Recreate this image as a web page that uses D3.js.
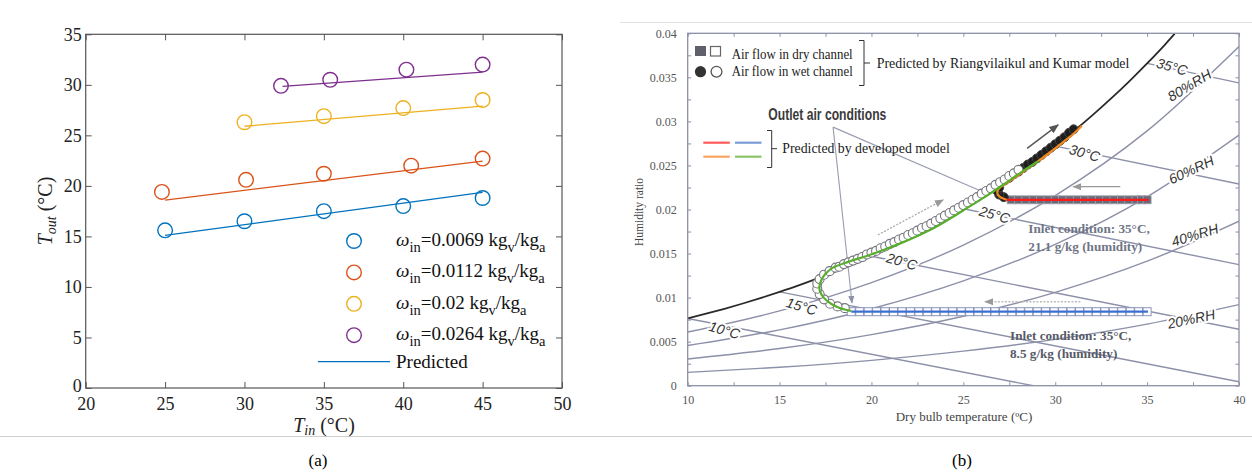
<!DOCTYPE html>
<html>
<head>
<meta charset="utf-8">
<script src="https://d3js.org/d3.v7.min.js"></script>
<style>
  body { margin:0; background:#fff; }
  svg { display:block; }
  text { font-family: "Liberation Serif", "Times New Roman", serif; }
  .psy { font-family: "Liberation Sans", Arial, sans-serif; font-style: italic; fill:#333;
         paint-order: stroke; stroke:#fff; stroke-width:4px; stroke-linejoin:round; }
</style>
</head>
<body>
<svg width="1252" height="473"></svg>
<script>
// ---------- panel (a): outlet temperature vs inlet temperature
var omegaLabels = ['0.0069', '0.0112', '0.02', '0.0264'];
var seriesColors = ['#0072BD', '#D95319', '#EDB120', '#7E2F8E'];
var tinMeas = [[25, 30, 35, 40, 45], [24.8, 30.1, 35, 40.5, 45], [30, 35, 40, 45], [32.3, 35.4, 40.2, 45]];
var toutMeas = [[15.6, 16.5, 17.5, 18.0, 18.8], [19.4, 20.6, 21.2, 22.0, 22.7], [26.3, 26.9, 27.7, 28.5], [29.9, 30.5, 31.5, 32.0]];
var tinPred = [[25, 45], [25, 45], [30, 45], [32.4, 45]];
var toutPred = [[15.1, 19.35], [18.6, 22.45], [25.9, 27.9], [29.85, 31.25]];
var aTicksX = [20, 25, 30, 35, 40, 45, 50];
var aTicksY = [0, 5, 10, 15, 20, 25, 30, 35];

// ---------- panel (b): psychrometric chart
var satT = [10, 11, 12, 13, 14, 15, 16, 17, 18, 19, 20, 21, 22, 23, 24, 25, 26, 27, 28, 29, 30, 31, 32, 33, 34, 35, 36, 36.5];
var satW = [0.00763, 0.00817, 0.00873, 0.00933, 0.00997, 0.01065, 0.01136, 0.01213, 0.01293, 0.01379, 0.01470, 0.01565,
            0.01667, 0.01774, 0.01888, 0.02008, 0.02135, 0.02270, 0.02412, 0.02562, 0.02720, 0.02888, 0.03065, 0.03252,
            0.03449, 0.03658, 0.03878, 0.03994];
var rhT = [10, 15, 20, 25, 30, 35, 40];
var rh80 = [0.00609, 0.00849, 0.01170, 0.01596, 0.02158, 0.02892, 0.03851];
var rh60 = [0.00456, 0.00634, 0.00874, 0.01190, 0.01604, 0.02144, 0.02844];
var rh40 = [0.00303, 0.00422, 0.00580, 0.00788, 0.01060, 0.01413, 0.01868];
var rh20 = [0.00151, 0.00210, 0.00288, 0.00392, 0.00526, 0.00699, 0.00920];
var rhNames = ['80%RH', '60%RH', '40%RH', '20%RH'];
var rhLabelT = [37.3, 37.4, 37.6, 37.4];
var rhLabelW = [0.0341, 0.0245, 0.0171, 0.00757];
var rhLabelRot = [-31, -25, -17, -12];

var wbT = [10, 15, 20, 25, 30, 35];
var wbStartW = [0.00763, 0.01065, 0.01470, 0.02008, 0.02720, 0.03658];
var wbEndT = [28.8, 40, 40, 40, 40, 40];
var wbEndW = [0, 0.00044, 0.0064, 0.01374, 0.02289, 0.03437];
var wbLabelT = [12.0, 16.2, 21.65, 26.7, 31.6, 36.35];
var wbLabelW = [0.0063, 0.0090, 0.0141, 0.0194, 0.0264, 0.0362];

// dry channel (squares) and wet channel (circles), Riangvilaikul and Kumar model
var dryHighT = [27.6, 28.0, 28.4, 28.8, 29.2, 29.6, 30.0, 30.4, 30.8, 31.2, 31.6, 32.0, 32.4, 32.8, 33.2, 33.6, 34.0, 34.4, 34.7, 35.0];
var dryHighW = 0.0211;
var dryLowT = [18.9, 19.36, 19.82, 20.28, 20.74, 21.2, 21.66, 22.12, 22.58, 23.04, 23.5, 23.96, 24.42, 24.88, 25.34, 25.8,
               26.26, 26.72, 27.18, 27.64, 28.1, 28.56, 29.02, 29.48, 29.94, 30.4, 30.86, 31.32, 31.78, 32.24, 32.7,
               33.16, 33.62, 34.08, 34.54, 35.0];
var dryLowW = 0.0084;
var wetHighT = [27.2, 26.95, 26.85, 26.95, 27.25, 27.5, 27.75, 28.0, 28.25, 28.5, 28.75, 29.0, 29.25, 29.5, 29.75, 30.0, 30.25, 30.5, 30.75, 31.0];
var wetHighW = [0.0214, 0.0217, 0.0221, 0.0225, 0.0233, 0.0236, 0.0240, 0.0243, 0.0247, 0.0251, 0.0254, 0.0258, 0.0262, 0.0266,
                0.0270, 0.0274, 0.0278, 0.0282, 0.0287, 0.0291];
var wetLowT = [18.55, 18.15, 17.75, 17.42, 17.18, 17.05, 17.05, 17.18, 17.42, 17.72, 18.05,
               18.25, 18.5, 18.75, 19.0, 19.25, 19.5, 19.75, 20.0, 20.25, 20.5, 20.75, 21.0, 21.25, 21.5, 21.75, 22.0,
               22.25, 22.5, 22.75, 23.0, 23.25, 23.5, 23.75, 24.0, 24.25, 24.5, 24.75, 25.0, 25.25, 25.5, 25.75, 26.0,
               26.25, 26.5, 26.75, 27.0, 27.25, 27.5, 27.75, 28.0];
var wetLowW = [0.0088, 0.0090, 0.0093, 0.0098, 0.0104, 0.0110, 0.0116, 0.0121, 0.0126, 0.0130, 0.0134,
               0.0135, 0.0138, 0.0140, 0.0142, 0.0144, 0.0146, 0.0149, 0.0151, 0.0153, 0.0156, 0.0158, 0.0161, 0.0163,
               0.0166, 0.0168, 0.0171, 0.0173, 0.0176, 0.0179, 0.0181, 0.0184, 0.0187, 0.0190, 0.0193, 0.0196, 0.0199,
               0.0202, 0.0205, 0.0208, 0.0211, 0.0214, 0.0218, 0.0221, 0.0224, 0.0228, 0.0231, 0.0234, 0.0238, 0.0241, 0.0245];

// developed model
var redT = [27.36, 35.07], redW = [0.0211, 0.0211];
var blueT = [18.9, 35.05], blueW = [0.0084, 0.0084];
var greenT = [18.9, 18.3, 17.8, 17.4, 17.2, 17.17, 17.3, 17.5, 17.9, 18.8, 19.7, 20.65, 21.5, 22.5, 23.4, 24.3, 25.3, 26.3, 27.3, 28.2, 29.1];
var greenW = [0.0085, 0.0088, 0.0093, 0.0100, 0.0107, 0.0113, 0.0121, 0.0127, 0.0134, 0.0141, 0.0147, 0.0154, 0.0161, 0.0170,
              0.0179, 0.0190, 0.0203, 0.0216, 0.0230, 0.0243, 0.0255];
var orangeT = [27.36, 27.1, 26.9, 26.85, 26.95, 27.3, 28.0, 28.8, 29.6, 30.4, 31.0, 31.45];
var orangeW = [0.0211, 0.0213, 0.0216, 0.0220, 0.0224, 0.0229, 0.0239, 0.0251, 0.0263, 0.0276, 0.0286, 0.0295];
var bTicksX = [10, 15, 20, 25, 30, 35, 40];
var bTicksY = [0, 0.005, 0.01, 0.015, 0.02, 0.025, 0.03, 0.035, 0.04];

var svg = d3.select('svg');

// frame lines of the figure
svg.append('line').attr('x1', 0).attr('x2', 1252).attr('y1', 436.5).attr('y2', 436.5).attr('stroke', '#d0d0d0');
svg.append('line').attr('x1', 620).attr('x2', 1252).attr('y1', 22.5).attr('y2', 22.5).attr('stroke', '#e2e2e2');
svg.append('text').attr('x', 318).attr('y', 466).attr('text-anchor', 'middle').attr('font-size', 17).text('(a)');
svg.append('text').attr('x', 962).attr('y', 466).attr('text-anchor', 'middle').attr('font-size', 17).text('(b)');

// ================= panel (a)
var xA = d3.scaleLinear().domain([20, 50]).range([85.7, 562]);
var yA = d3.scaleLinear().domain([0, 35]).range([388, 34.3]);
var ga = svg.append('g');

function styleAxis(g, col, fs) {
  g.select('.domain').remove();
  g.selectAll('line').attr('stroke', col);
  g.selectAll('text').attr('font-size', fs).attr('fill', '#222');
}
ga.append('g').attr('transform', 'translate(0,388)')
  .call(d3.axisBottom(xA).tickValues(aTicksX).tickSize(-6).tickPadding(9).tickSizeOuter(0))
  .call(styleAxis, '#555', 18);
ga.append('g').attr('transform', 'translate(0,34.3)')
  .call(d3.axisTop(xA).tickValues(aTicksX).tickSize(-6).tickFormat('')).call(styleAxis, '#555', 18);
var yAxA = ga.append('g').attr('transform', 'translate(85.7,0)')
  .call(d3.axisLeft(yA).tickValues(aTicksY).tickSize(-6).tickPadding(4))
  .call(styleAxis, '#555', 18);
yAxA.selectAll('.tick text').filter(d => d === 0).attr('dy', '0.2em');
ga.append('g').attr('transform', 'translate(562,0)')
  .call(d3.axisRight(yA).tickValues(aTicksY).tickSize(-6).tickFormat('')).call(styleAxis, '#555', 18);
ga.append('rect').attr('x', xA(20)).attr('y', yA(35)).attr('width', xA(50) - xA(20)).attr('height', yA(0) - yA(35))
  .attr('fill', 'none').attr('stroke', '#555').attr('stroke-width', 1.2);

var lineA = d3.line().x(d => xA(d[0])).y(d => yA(d[1]));
tinPred.forEach(function (ts, i) {
  ga.append('path').datum(ts.map((t, j) => [t, toutPred[i][j]]))
    .attr('d', lineA).attr('fill', 'none').attr('stroke', seriesColors[i]).attr('stroke-width', 1.3);
});
tinMeas.forEach(function (ts, i) {
  ga.selectAll(null).data(ts.map((t, j) => [t, toutMeas[i][j]])).enter().append('circle')
    .attr('cx', d => xA(d[0])).attr('cy', d => yA(d[1])).attr('r', 7.3)
    .attr('fill', 'none').attr('stroke', seriesColors[i]).attr('stroke-width', 1.4);
});

// legend (a)
var legA = ga.append('g');
omegaLabels.forEach(function (lab, i) {
  var y = 241 + i * 31.4;
  legA.append('circle').attr('cx', 354).attr('cy', y).attr('r', 7.3)
    .attr('fill', 'none').attr('stroke', seriesColors[i]).attr('stroke-width', 1.4);
  var t = legA.append('text').attr('x', 396).attr('y', y + 5).attr('font-size', 19).attr('fill', '#111');
  t.append('tspan').attr('font-style', 'italic').text('\u03c9');
  t.append('tspan').attr('font-size', 14.5).attr('dy', 6).text('in');
  t.append('tspan').attr('dy', -6).text('=' + lab + ' kg');
  t.append('tspan').attr('font-size', 14.5).attr('dy', 6).text('v');
  t.append('tspan').attr('dy', -6).text('/kg');
  t.append('tspan').attr('font-size', 14.5).attr('dy', 6).text('a');
});
legA.append('line').attr('x1', 318).attr('x2', 390).attr('y1', 361.7).attr('y2', 361.7)
  .attr('stroke', seriesColors[0]).attr('stroke-width', 1.3);
legA.append('text').attr('x', 396).attr('y', 368).attr('font-size', 19).attr('fill', '#111').text('Predicted');

// axis titles (a)
var yt = ga.append('text').attr('transform', 'translate(52,211) rotate(-90)').attr('text-anchor', 'middle')
  .attr('font-size', 20).attr('fill', '#222');
yt.append('tspan').attr('font-style', 'italic').text('T');
yt.append('tspan').attr('font-style', 'italic').attr('font-size', 14).attr('dy', 4).text('out');
yt.append('tspan').attr('dy', -4).text(' (\u00b0C)');
var xt = ga.append('text').attr('x', 324).attr('y', 432).attr('text-anchor', 'middle').attr('font-size', 20).attr('fill', '#222');
xt.append('tspan').attr('font-style', 'italic').text('T');
xt.append('tspan').attr('font-style', 'italic').attr('font-size', 14).attr('dy', 3).text('in');
xt.append('tspan').attr('dy', -3).text(' (\u00b0C)');

// ================= panel (b)
var xB = d3.scaleLinear().domain([10, 40]).range([687.7, 1239]);
var yB = d3.scaleLinear().domain([0, 0.04]).range([385.7, 33.3]);
var gb = svg.append('g');
var gridCol = '#8c90a8';

svg.append('defs').append('clipPath').attr('id', 'clipB').append('rect')
  .attr('x', xB(10)).attr('y', yB(0.04)).attr('width', xB(40) - xB(10)).attr('height', yB(0) - yB(0.04));
var plotB = gb.append('g').attr('clip-path', 'url(#clipB)');

var minorX = d3.range(10, 40.1, 2.5), minorY = d3.range(0, 0.0401, 0.0025);
gb.append('g').attr('transform', 'translate(0,385.7)')
  .call(d3.axisBottom(xB).tickValues(bTicksX).tickSize(0).tickPadding(10).tickFormat(d3.format('d')))
  .call(styleAxis, gridCol, 12);
gb.append('g').attr('transform', 'translate(687.7,0)')
  .call(d3.axisLeft(yB).tickValues(bTicksY).tickSize(0).tickPadding(11).tickFormat(d => d === 0 ? '0' : String(+d.toFixed(3))))
  .call(styleAxis, gridCol, 12);
[['axisBottom', 385.7], ['axisTop', 33.3]].forEach(function (a) {
  gb.append('g').attr('transform', 'translate(0,' + a[1] + ')')
    .call(d3[a[0]](xB).tickValues(minorX).tickSize(-3.5).tickFormat('')).call(styleAxis, gridCol, 12);
});
[['axisLeft', 687.7], ['axisRight', 1239]].forEach(function (a) {
  gb.append('g').attr('transform', 'translate(' + a[1] + ',0)')
    .call(d3[a[0]](yB).tickValues(minorY).tickSize(-3.5).tickFormat('')).call(styleAxis, gridCol, 12);
});
gb.selectAll('.tick text').attr('fill', '#555');
gb.append('rect').attr('x', xB(10)).attr('y', yB(0.04)).attr('width', xB(40) - xB(10)).attr('height', yB(0) - yB(0.04))
  .attr('fill', 'none').attr('stroke', gridCol).attr('stroke-width', 1.3);

var lineB = d3.line().x(d => xB(d[0])).y(d => yB(d[1]));
var smoothB = d3.line().x(d => xB(d[0])).y(d => yB(d[1])).curve(d3.curveMonotoneX);
var splineB = d3.line().x(d => xB(d[0])).y(d => yB(d[1])).curve(d3.curveCatmullRom);

[rh80, rh60, rh40, rh20].forEach(function (ws) {
  plotB.append('path').datum(rhT.map((t, j) => [t, ws[j]])).attr('d', smoothB)
    .attr('fill', 'none').attr('stroke', gridCol).attr('stroke-width', 1.4);
});
wbT.forEach(function (t, i) {
  plotB.append('path').datum([[t, wbStartW[i]], [wbEndT[i], wbEndW[i]]]).attr('d', lineB)
    .attr('fill', 'none').attr('stroke', gridCol).attr('stroke-width', 1.4);
});
plotB.append('path').datum(satT.map((t, j) => [t, satW[j]])).attr('d', smoothB)
  .attr('fill', 'none').attr('stroke', '#2a2a2a').attr('stroke-width', 1.8);

// chart labels on the lines
wbT.forEach(function (t, i) {
  gb.append('text').attr('class', 'psy').attr('font-size', 14).attr('text-anchor', 'middle').attr('dy', '0.35em')
    .attr('transform', 'translate(' + xB(wbLabelT[i]) + ',' + yB(wbLabelW[i]) + ') rotate(16)')
    .text(t + '\u00b0C');
});
rhNames.forEach(function (n, i) {
  gb.append('text').attr('class', 'psy').attr('font-size', 14).attr('text-anchor', 'middle').attr('dy', '0.35em')
    .attr('transform', 'translate(' + xB(rhLabelT[i]) + ',' + yB(rhLabelW[i]) + ') rotate(' + rhLabelRot[i] + ')')
    .text(n);
});

// arrows
var defs = svg.select('defs');
[['arrDark', '#555'], ['arrGray', '#999'], ['arrLead', '#8c90a8']].forEach(function (m) {
  defs.append('marker').attr('id', m[0]).attr('viewBox', '0 0 10 10').attr('refX', 9).attr('refY', 5)
    .attr('markerWidth', 7).attr('markerHeight', 7).attr('orient', 'auto-start-reverse')
    .append('path').attr('d', 'M0,1 L10,5 L0,9 z').attr('fill', m[1]);
});
var leaderApex = [17.91, 0.02935];
plotB.append('path').datum([leaderApex, [18.94, 0.0094]]).attr('d', lineB).attr('stroke', '#9a9db0')
  .attr('stroke-width', 1.1).attr('marker-end', 'url(#arrLead)');
plotB.append('path').datum([leaderApex, [26.3, 0.0218]]).attr('d', lineB).attr('stroke', '#9a9db0')
  .attr('stroke-width', 1.1).attr('marker-end', 'url(#arrLead)');
plotB.append('path').datum([[28.47, 0.02694], [30.16, 0.02961]]).attr('d', lineB).attr('stroke', '#555')
  .attr('stroke-width', 1.4).attr('marker-end', 'url(#arrDark)');
plotB.append('path').datum([[33.54, 0.02259], [30.98, 0.02259]]).attr('d', lineB).attr('stroke', '#999')
  .attr('stroke-width', 1.3).attr('marker-end', 'url(#arrGray)');
plotB.append('path').datum([[20.35, 0.01711], [23.9, 0.0211]]).attr('d', lineB).attr('stroke', '#aaa')
  .attr('stroke-width', 1.3).attr('stroke-dasharray', '2,1.5').attr('marker-end', 'url(#arrGray)');
plotB.append('path').datum([[31.37, 0.00953], [26.18, 0.00953]]).attr('d', lineB).attr('stroke', '#bbb')
  .attr('stroke-width', 1.3).attr('stroke-dasharray', '2,1.5').attr('marker-end', 'url(#arrGray)');

// dry channel squares
var sq = 8;
plotB.selectAll(null).data(dryHighT).enter().append('rect')
  .attr('x', d => xB(d) - sq / 2).attr('y', yB(dryHighW) - sq / 2).attr('width', sq).attr('height', sq)
  .attr('fill', '#6a6a78').attr('stroke', '#a5a5b2').attr('stroke-width', 0.8);
plotB.selectAll(null).data(dryLowT).enter().append('rect')
  .attr('x', d => xB(d) - sq / 2).attr('y', yB(dryLowW) - sq / 2).attr('width', sq).attr('height', sq)
  .attr('fill', '#fff').attr('stroke', '#8e94b8').attr('stroke-width', 1);
// wet channel circles
plotB.selectAll(null).data(wetHighT.map((t, j) => [t, wetHighW[j]])).enter().append('circle')
  .attr('cx', d => xB(d[0])).attr('cy', d => yB(d[1])).attr('r', 4.5).attr('fill', '#1e1e1e').attr('stroke', '#444');
plotB.selectAll(null).data(wetLowT.map((t, j) => [t, wetLowW[j]])).enter().append('circle')
  .attr('cx', d => xB(d[0])).attr('cy', d => yB(d[1])).attr('r', 4.5).attr('fill', '#fff').attr('stroke', '#75757f').attr('stroke-width', 1.1);

// developed model lines
function devLine(ts, ws, col) {
  plotB.append('path').datum(ts.map((t, j) => [t, ws[j]])).attr('d', splineB)
    .attr('fill', 'none').attr('stroke', col).attr('stroke-width', 2.2);
}
devLine(redT, redW, '#ff1a1a');
devLine(blueT, blueW, '#3b6fd4');
devLine(orangeT, orangeW, '#f28a1e');
devLine(greenT, greenW, '#5aae2e');

// legends and notes (b)
gb.append('rect').attr('x', 695).attr('y', 46).attr('width', 11).attr('height', 10).attr('fill', '#60606c');
gb.append('rect').attr('x', 710.5).attr('y', 46.5).attr('width', 10).attr('height', 9.5).attr('fill', '#fff')
  .attr('stroke', '#666').attr('stroke-width', 1.2);
gb.append('circle').attr('cx', 700.5).attr('cy', 71.7).attr('r', 5.6).attr('fill', '#333');
gb.append('circle').attr('cx', 716.5).attr('cy', 71.7).attr('r', 5.4).attr('fill', '#fff').attr('stroke', '#555').attr('stroke-width', 1.3);
gb.append('text').attr('x', 731.7).attr('y', 58.5).attr('font-size', 15).attr('fill', '#222')
  .attr('textLength', 121).attr('lengthAdjust', 'spacingAndGlyphs').text('Air flow in dry channel');
gb.append('text').attr('x', 731.7).attr('y', 76).attr('font-size', 15).attr('fill', '#222')
  .attr('textLength', 121).attr('lengthAdjust', 'spacingAndGlyphs').text('Air flow in wet channel');
gb.append('path').attr('d', 'M859,40.5 H864 V85.5 H859 M864,63 H870').attr('fill', 'none').attr('stroke', '#333').attr('stroke-width', 1);
gb.append('text').attr('x', 876.7).attr('y', 67.5).attr('font-size', 13.9).attr('fill', '#222')
  .text('Predicted by Riangvilaikul and Kumar model');

gb.append('text').attr('x', 768.3).attr('y', 120).attr('font-size', 16).attr('font-weight', 'bold').attr('fill', '#3a3a3a')
  .style('font-family', '"Liberation Sans Narrow", "Arial Narrow", "Liberation Sans", Arial, sans-serif')
  .attr('textLength', 118).attr('lengthAdjust', 'spacingAndGlyphs').text('Outlet air conditions');

[['#ff5a5a', 703.3, 142.7], ['#7b9bd6', 735, 142.7], ['#f7a565', 703.3, 156.7], ['#8cc46a', 735, 156.7]].forEach(function (l) {
  gb.append('line').attr('x1', l[1]).attr('x2', l[1] + 26.5).attr('y1', l[2]).attr('y2', l[2])
    .attr('stroke', l[0]).attr('stroke-width', 2.2);
});
gb.append('path').attr('d', 'M767,130.5 H771.7 V167.5 H767 M771.7,148.7 H777').attr('fill', 'none').attr('stroke', '#333').attr('stroke-width', 1);
gb.append('text').attr('x', 782.3).attr('y', 153).attr('font-size', 13.8).attr('fill', '#222').text('Predicted by developed model');

[['Inlet condition: 35\u00b0C,', '21.1 g/kg (humidity)', 1028.3, 233, '#6f7486'],
 ['Inlet condition: 35\u00b0C,', '8.5 g/kg (humidity)', 1010, 340, '#565b68']].forEach(function (n) {
  gb.append('text').attr('x', n[2]).attr('y', n[3]).attr('font-size', 13.2).attr('font-weight', 'bold').attr('fill', n[4]).text(n[0]);
  gb.append('text').attr('x', n[2]).attr('y', n[3] + 17.5).attr('font-size', 13.2).attr('font-weight', 'bold').attr('fill', n[4]).text(n[1]);
});

gb.append('text').attr('transform', 'translate(643,212) rotate(-90)').attr('text-anchor', 'middle')
  .attr('font-size', 11.5).attr('fill', '#444').text('Humidity ratio');
gb.append('text').attr('x', 964).attr('y', 420.5).attr('text-anchor', 'middle')
  .attr('font-size', 13).attr('fill', '#444').text('Dry bulb temperature (\u00baC)');
</script>
</body>
</html>
